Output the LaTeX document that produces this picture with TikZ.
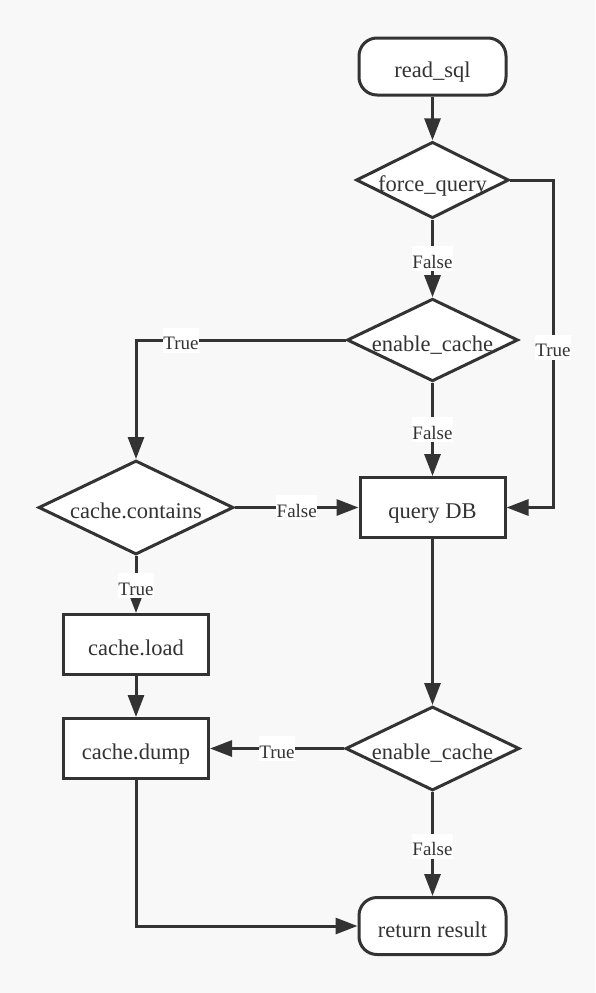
\documentclass[tikz,border=0pt]{standalone}
\usepackage{fontspec}
\setmainfont{Liberation Serif}
\usetikzlibrary{shapes.geometric,arrows.meta}
\definecolor{ln}{HTML}{333333}
\definecolor{bg}{HTML}{F8F8F8}
\begin{document}
\begin{tikzpicture}[x=1pt,y=-1pt,
  every node/.style={text=ln},
  base/.style={draw=ln, line width=3pt, fill=white, inner sep=0pt, text height=22pt, text depth=0pt, font=\fontsize{22.5}{24}\selectfont},
  term/.style={base, rounded corners=18pt, minimum width=147pt, minimum height=57pt},
  proc/.style={base, minimum width=145pt, minimum height=60pt},
  dec/.style={base, diamond, shape aspect=2},
  lbl/.style={fill=white, inner xsep=0.5pt, inner ysep=2.75pt, text height=19.5pt, text depth=0pt, font=\fontsize{19}{20}\selectfont},
  conn/.style={draw=ln, line width=3pt, -{Triangle[length=22pt,width=16pt]}}
]
\fill[bg] (0,0) rectangle (595,993);
\node[term] (rs) at (432.5,66.5) {read\_sql};
\node[dec, minimum width=152pt, minimum height=72pt] (fq) at (432.5,180) {force\_query};
\node[dec, minimum width=171pt, minimum height=82pt] (ec1) at (432.5,340) {enable\_cache};
\node[dec, minimum width=195pt, minimum height=94pt] (cc) at (136,507.5) {cache.contains};
\node[proc] (qdb) at (432.5,507.5) {query DB};
\node[proc] (cl) at (136,644.5) {cache.load};
\node[proc] (cd) at (136,748.5) {cache.dump};
\node[dec, minimum width=174pt, minimum height=84pt] (ec2) at (432.5,748.5) {enable\_cache};
\node[term] (rr) at (432.5,926) {return result};

\coordinate (c1) at (553,180);
\coordinate (c2) at (553,507.5);
\coordinate (c3) at (136,340);
\coordinate (c4) at (136,926);

\draw[conn] (rs) -- (fq);
\draw[conn] (fq.east) -- (c1) -- node[lbl, pos=0.51] {True} (c2) -- (qdb.east);
\draw[conn] (fq) -- node[lbl, pos=0.5] {False} (ec1);
\draw[conn] (ec1.west) -- node[lbl, pos=0.785] {True} (c3) -- (cc.north);
\draw[conn] (ec1) -- node[lbl, pos=0.5] {False} (qdb);
\draw[conn] (cc.east) -- node[lbl, pos=0.5] {False} (qdb.west);
\draw[conn] (cc) -- node[lbl, pos=0.52] {True} (cl);
\draw[conn] (cl) -- (cd);
\draw[conn] (qdb) -- (ec2);
\draw[conn] (ec2.west) -- node[lbl, pos=0.5] {True} (cd.east);
\draw[conn] (ec2) -- node[lbl, pos=0.52] {False} (rr);
\draw[conn] (cd.south) -- (c4) -- (rr.west);
\end{tikzpicture}
\end{document}
